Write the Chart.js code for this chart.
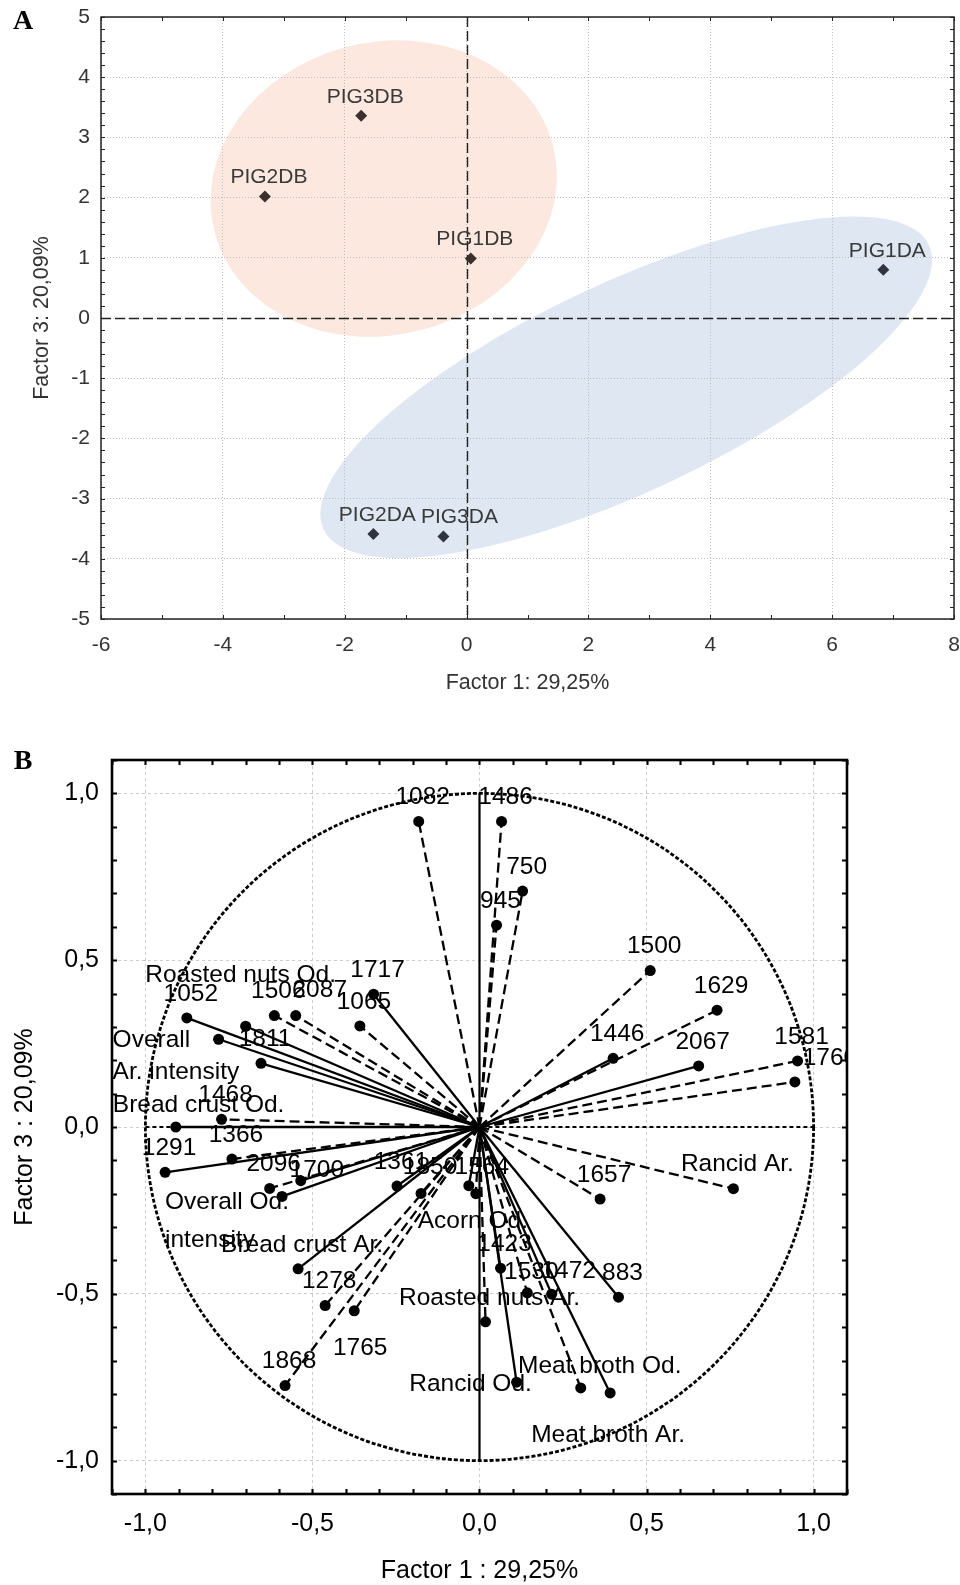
<!DOCTYPE html>
<html>
<head>
<meta charset="utf-8">
<script src="https://cdn.jsdelivr.net/npm/chart.js@4.4.0/dist/chart.umd.min.js"></script>
<style>
  body { margin: 0; background: #fff; }
  canvas { position: absolute; left: 0; }
</style>
</head>
<body>
<canvas id="chartA" width="960" height="700" style="top:0"></canvas>
<canvas id="chartB" width="960" height="885" style="top:700px"></canvas>
<script>
// ---- panel A : sample scores ----
const samples = ['PIG1DA', 'PIG2DA', 'PIG3DA', 'PIG1DB', 'PIG2DB', 'PIG3DB'];
const sampleF1 = [6.84, -1.53, -0.38, 0.07, -3.31, -1.73];
const sampleF3 = [0.80, -3.59, -3.63, 0.99, 2.02, 3.36];
const sampleGroup = ['DA', 'DA', 'DA', 'DB', 'DB', 'DB'];
const scoreXTicks = [-6, -4, -2, 0, 2, 4, 6, 8];
const scoreYTicks = [-5, -4, -3, -2, -1, 0, 1, 2, 3, 4, 5];

// ---- panel B : variable loadings ----
const variables = ['1082', '1486', '750', '945', '1500', '1629', '1446', '2067', '1581', '1760',
    'Rancid Ar.', '1657', '883', 'Meat broth Ar.', 'Meat broth Od.', 'Rancid Od.', 'Roasted nuts Ar.',
    '1423', '1530', '1472', '1564', 'Acorn Od.', '1850', '1361', '1868', '1765', '1278',
    'Bread crust Ar.', 'Overall Od.\nintensity', '1700', '2096', '1366', '1291', 'Bread crust Od.', '1468',
    'Overall\nAr. intensity', '1811', 'Roasted nuts Od.', '1052', '1506', '2087', '1065', '1717'];
const loadF1 = [-0.182, 0.066, 0.129, 0.051, 0.511, 0.711, 0.400, 0.656, 0.952, 0.944,
    0.760, 0.361, 0.416, 0.391, 0.303, 0.111, 0.018,
    0.063, 0.143, 0.216, -0.011, -0.032, -0.175, -0.247, -0.582, -0.375, -0.462,
    -0.543, -0.591, -0.535, -0.628, -0.741, -0.941, -0.909, -0.772,
    -0.781, -0.654, -0.700, -0.876, -0.614, -0.550, -0.358, -0.317];
const loadF3 = [0.916, 0.916, 0.707, 0.605, 0.469, 0.350, 0.206, 0.183, 0.198, 0.135,
    -0.185, -0.216, -0.510, -0.797, -0.782, -0.765, -0.584,
    -0.423, -0.497, -0.501, -0.200, -0.176, -0.199, -0.177, -0.775, -0.551, -0.535,
    -0.425, -0.208, -0.161, -0.184, -0.096, -0.136, 0.000, 0.023,
    0.263, 0.191, 0.302, 0.327, 0.334, 0.334, 0.303, 0.398];
// 1 = solid vector, 2 = dashed vector
const varGroup = [2, 2, 2, 2, 2, 2, 1, 1, 2, 2,
    2, 2, 1, 1, 2, 1, 2,
    1, 2, 1, 2, 1, 2, 1, 2, 2, 2,
    1, 1, 1, 2, 2, 1, 1, 2,
    1, 1, 1, 1, 2, 2, 2, 1];
const loadTicks = [-1, -0.5, 0, 0.5, 1];


// ellipses around the two sample groups (panel A)
const groupEllipse = {
    DB: { cx: -1.36, cy: 2.15, a: 2.87, b: 2.43, angle: 15, fill: '#fce8de' },
    DA: { cx: 2.62, cy: -1.15, a: 5.5, b: 1.73, angle: 25.5, fill: '#dfe7f3' }
};

// label placement, px from the point (centre of text)
const labelDefault = { dx: 4, dy: -24, align: 'center', gap: 0 };
const labelPlace = {
    '1760': { dx: 35, dy: -24 },
    'Bread crust Od.': { dx: -63, dy: -22, align: 'left' },
    'Overall\nAr. intensity': { dx: -106, dy: 1, align: 'left', gap: 32 },
    'Roasted nuts Od.': { dx: -5, dy: -51 },
    '2087': { dx: 24, dy: -25 },
    '1700': { dx: 16, dy: -10 },
    'Overall Od.\nintensity': { dx: -117, dy: 6, align: 'left', gap: 38 },
    '1765': { dx: 6, dy: 37 },
    '1850': { dx: 9, dy: -26 },
    '1564': { dx: 6, dy: -26 },
    'Acorn Od.': { dx: 4, dy: 36 },
    '1530': { dx: 4, dy: -21 },
    '1472': { dx: 17, dy: -23 },
    'Rancid Od.': { dx: -46, dy: 2 },
    'Meat broth Od.': { dx: 19, dy: -22 },
    'Meat broth Ar.': { dx: -2, dy: 42 }
};

const sansA = "'Liberation Sans', Arial, sans-serif";


function drawFrameTicks(chart, xStep, yStep, len, lw, color) {
    let ctx = chart.ctx;
    let a = chart.chartArea;
    let xs = chart.scales.x;
    let ys = chart.scales.y;
    ctx.save();
    ctx.strokeStyle = color;
    ctx.lineWidth = lw;
    ctx.strokeRect(a.left, a.top, a.right - a.left, a.bottom - a.top);
    ctx.lineWidth = Math.max(1, lw - 0.5);
    ctx.beginPath();
    for (let v = xs.min; v <= xs.max + 1e-9; v += xStep) {
        let p = Math.round(xs.getPixelForValue(v)) + 0.5;
        ctx.moveTo(p, a.bottom); ctx.lineTo(p, a.bottom - len);
        ctx.moveTo(p, a.top); ctx.lineTo(p, a.top + len);
    }
    for (let v = ys.min; v <= ys.max + 1e-9; v += yStep) {
        let p = Math.round(ys.getPixelForValue(v)) + 0.5;
        ctx.moveTo(a.left, p); ctx.lineTo(a.left + len, p);
        ctx.moveTo(a.right, p); ctx.lineTo(a.right - len, p);
    }
    ctx.stroke();
    ctx.restore();
}

function drawText(ctx, text, x, y, font, color, rot) {
    ctx.save();
    ctx.font = font;
    ctx.fillStyle = color;
    ctx.textAlign = 'center';
    ctx.textBaseline = 'middle';
    ctx.translate(x, y);
    if (rot) ctx.rotate(rot);
    ctx.fillText(text, 0, 0);
    ctx.restore();
}

// keep the plot frame where it is, whatever the tick labels need
function fixX(h) {
    return s => { s.height = h; s.paddingLeft = 0; s.paddingRight = 0; };
}
function fixY(w) {
    return s => { s.width = w; s.paddingTop = 0; s.paddingBottom = 0; };
}


// ---------------- chart A ----------------
let scorePlugin = {
    id: 'scoreDecor',
    beforeDraw(chart) {
        let ctx = chart.ctx;
        let xs = chart.scales.x;
        let ys = chart.scales.y;
        let px = xs.getPixelForValue(1) - xs.getPixelForValue(0);
        let py = ys.getPixelForValue(0) - ys.getPixelForValue(1);
        Object.values(groupEllipse).forEach(e => {
            ctx.save();
            ctx.translate(xs.getPixelForValue(e.cx), ys.getPixelForValue(e.cy));
            ctx.scale(px, -py);
            ctx.rotate(e.angle * Math.PI / 180);
            ctx.beginPath();
            ctx.ellipse(0, 0, e.a, e.b, 0, 0, Math.PI * 2);
            ctx.restore();
            ctx.fillStyle = e.fill;
            ctx.fill();
        });
    },
    beforeDatasetsDraw(chart) {
        let ctx = chart.ctx;
        let a = chart.chartArea;
        let x0 = Math.round(chart.scales.x.getPixelForValue(0)) + 0.5;
        let y0 = Math.round(chart.scales.y.getPixelForValue(0)) + 0.5;
        ctx.save();
        ctx.strokeStyle = '#222';
        ctx.lineWidth = 1.4;
        ctx.setLineDash([10, 4]);
        ctx.beginPath();
        ctx.moveTo(x0, a.top); ctx.lineTo(x0, a.bottom);
        ctx.moveTo(a.left, y0); ctx.lineTo(a.right, y0);
        ctx.stroke();
        ctx.restore();
    },
    afterDatasetsDraw(chart) {
        let ctx = chart.ctx;
        let meta = chart.getDatasetMeta(0);
        ctx.save();
        ctx.font = '21px ' + sansA;
        ctx.fillStyle = '#3a3a3a';
        ctx.textAlign = 'center';
        ctx.textBaseline = 'middle';
        meta.data.forEach((pt, i) => {
            let dx = samples[i] === 'PIG3DA' ? 16 : 4;
            ctx.fillText(samples[i], pt.x + dx, pt.y - 19);
        });
        ctx.restore();
    },
    afterDraw(chart) {
        drawFrameTicks(chart, 1, 0.2, 4, 1.5, '#222');
        let ctx = chart.ctx;
        let a = chart.chartArea;
        drawText(ctx, 'Factor 1: 29,25%', (a.left + a.right) / 2, 683, '21.5px ' + sansA, '#333');
        drawText(ctx, 'Factor 3: 20,09%', 42, (a.top + a.bottom) / 2, '21.5px ' + sansA, '#333', -Math.PI / 2);
        drawText(ctx, 'A', 23, 22, "bold 28px 'Liberation Serif', 'Times New Roman', serif", '#000');
    }
};

new Chart(document.getElementById('chartA'), {
    type: 'scatter',
    data: {
        datasets: [{
            data: samples.map((s, i) => ({ x: sampleF1[i], y: sampleF3[i] })),
            pointStyle: 'rectRot',
            pointRadius: 6,
            pointBorderWidth: 0,
            pointBackgroundColor: sampleGroup.map(g => g == 'DA' ? '#2f3440' : '#3b302c')
        }]
    },
    options: {
        responsive: false,
        animation: false,
        devicePixelRatio: 1,
        layout: { padding: { left: 0, right: 6, top: 17, bottom: 0 } },
        plugins: { legend: { display: false }, tooltip: { enabled: false } },
        scales: {
            x: {
                type: 'linear', min: -6, max: 8,
                afterBuildTicks: s => { s.ticks = scoreXTicks.map(v => ({ value: v })); },
                afterFit: fixX(81),
                ticks: { font: { size: 21, family: sansA }, color: '#333', padding: 14 },
                grid: { color: '#bdbdbd', lineWidth: 1, drawTicks: false },
                border: { display: false, dash: [1, 2] }
            },
            y: {
                type: 'linear', min: -5, max: 5,
                afterBuildTicks: s => { s.ticks = scoreYTicks.map(v => ({ value: v })); },
                afterFit: fixY(101),
                ticks: { font: { size: 21, family: sansA }, color: '#333', padding: 11 },
                grid: { color: '#bdbdbd', lineWidth: 1, drawTicks: false },
                border: { display: false, dash: [1, 2] }
            }
        }
    },
    plugins: [scorePlugin]
});


// ---------------- chart B ----------------
let loadPlugin = {
    id: 'loadDecor',
    beforeDatasetsDraw(chart) {
        let ctx = chart.ctx;
        let xs = chart.scales.x;
        let ys = chart.scales.y;
        let cx = xs.getPixelForValue(0);
        let cy = ys.getPixelForValue(0);
        let rx = xs.getPixelForValue(1) - cx;
        let ry = cy - ys.getPixelForValue(1);
        ctx.save();
        ctx.strokeStyle = '#000';
        // unit circle
        ctx.lineWidth = 2.8;
        ctx.setLineDash([4, 2]);
        ctx.beginPath();
        ctx.ellipse(cx, cy, rx, ry, 0, 0, Math.PI * 2);
        ctx.stroke();
        // axes through origin
        ctx.lineWidth = 2.2;
        ctx.setLineDash([4, 3]);
        ctx.beginPath();
        ctx.moveTo(xs.getPixelForValue(-1), cy); ctx.lineTo(xs.getPixelForValue(1), cy);
        ctx.stroke();
        ctx.setLineDash([]);
        ctx.beginPath();
        ctx.moveTo(cx, ys.getPixelForValue(1)); ctx.lineTo(cx, ys.getPixelForValue(-1));
        ctx.stroke();
        ctx.restore();
    },
    afterDatasetsDraw(chart) {
        let ctx = chart.ctx;
        let a = chart.chartArea;
        ctx.save();
        ctx.beginPath();
        ctx.rect(a.left, a.top, a.right - a.left, a.bottom - a.top);
        ctx.clip();
        ctx.font = '24.5px ' + sansA;
        ctx.fillStyle = '#000';
        ctx.textBaseline = 'middle';
        variables.forEach((name, i) => {
            let pt = chart.getDatasetMeta(i).data[1];
            let p = Object.assign({}, labelDefault, labelPlace[name] || {});
            ctx.textAlign = p.align;
            name.split('\n').forEach((line, k) => {
                ctx.fillText(line, pt.x + p.dx, pt.y + p.dy + k * p.gap);
            });
        });
        ctx.restore();
    },
    afterDraw(chart) {
        drawFrameTicks(chart, 0.1, 0.1, 5, 2.6, '#000');
        let ctx = chart.ctx;
        let a = chart.chartArea;
        drawText(ctx, 'Factor 1 : 29,25%', (a.left + a.right) / 2, 871, '25px ' + sansA, '#000');
        drawText(ctx, 'Factor 3 : 20,09%', 25, (a.top + a.bottom) / 2, '25px ' + sansA, '#000', -Math.PI / 2);
        drawText(ctx, 'B', 23, 62, "bold 28px 'Liberation Serif', 'Times New Roman', serif", '#000');
    }
};

let vectorSets = variables.map((name, i) => ({
    data: [{ x: 0, y: 0 }, { x: loadF1[i], y: loadF3[i] }],
    showLine: true,
    borderColor: '#000',
    borderWidth: 2.3,
    borderDash: varGroup[i] == 2 ? [10, 5] : [],
    pointRadius: [0, 5.5],
    pointBorderWidth: 0,
    pointBackgroundColor: '#000'
}));

let fmtComma = v => v.toFixed(1).replace('.', ',');

new Chart(document.getElementById('chartB'), {
    type: 'scatter',
    data: { datasets: vectorSets },
    options: {
        responsive: false,
        animation: false,
        devicePixelRatio: 1,
        layout: { padding: { left: 0, right: 113, top: 60, bottom: 0 } },
        plugins: { legend: { display: false }, tooltip: { enabled: false } },
        scales: {
            x: {
                type: 'linear', min: -1.1, max: 1.1,
                afterBuildTicks: s => { s.ticks = loadTicks.map(v => ({ value: v })); },
                afterFit: fixX(91),
                ticks: { font: { size: 25, family: sansA }, color: '#000', padding: 15, callback: fmtComma },
                grid: { color: '#cccccc', lineWidth: 1, drawTicks: false },
                border: { display: false, dash: [3, 3] }
            },
            y: {
                type: 'linear', min: -1.1, max: 1.1,
                afterBuildTicks: s => { s.ticks = loadTicks.map(v => ({ value: v })); },
                afterFit: fixY(112),
                ticks: { font: { size: 25, family: sansA }, color: '#000', padding: 13, callback: fmtComma },
                grid: { color: '#cccccc', lineWidth: 1, drawTicks: false },
                border: { display: false, dash: [3, 3] }
            }
        }
    },
    plugins: [loadPlugin]
});
</script>
</body>
</html>
